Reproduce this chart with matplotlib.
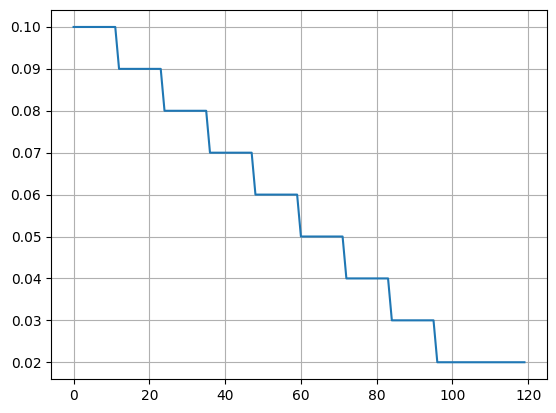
import matplotlib
matplotlib.use("Agg")
import matplotlib.pyplot as plt
import numpy as np

# learning rate levels and how many epochs each one lasts
lr_levels = [0.10, 0.09, 0.08, 0.07, 0.06, 0.05, 0.04, 0.03, 0.02]
epochs_per_level = [12, 12, 12, 12, 12, 12, 12, 12, 24]

lr = np.repeat(lr_levels, epochs_per_level)
epochs = np.arange(len(lr))

fig = plt.figure(figsize=(5.56, 4.13), dpi=100)
ax = fig.add_axes([0.0918, 0.0823, 0.892, 0.893])
ax.plot(epochs, lr)
ax.grid(True)
fig.savefig("out.png", dpi=100)
